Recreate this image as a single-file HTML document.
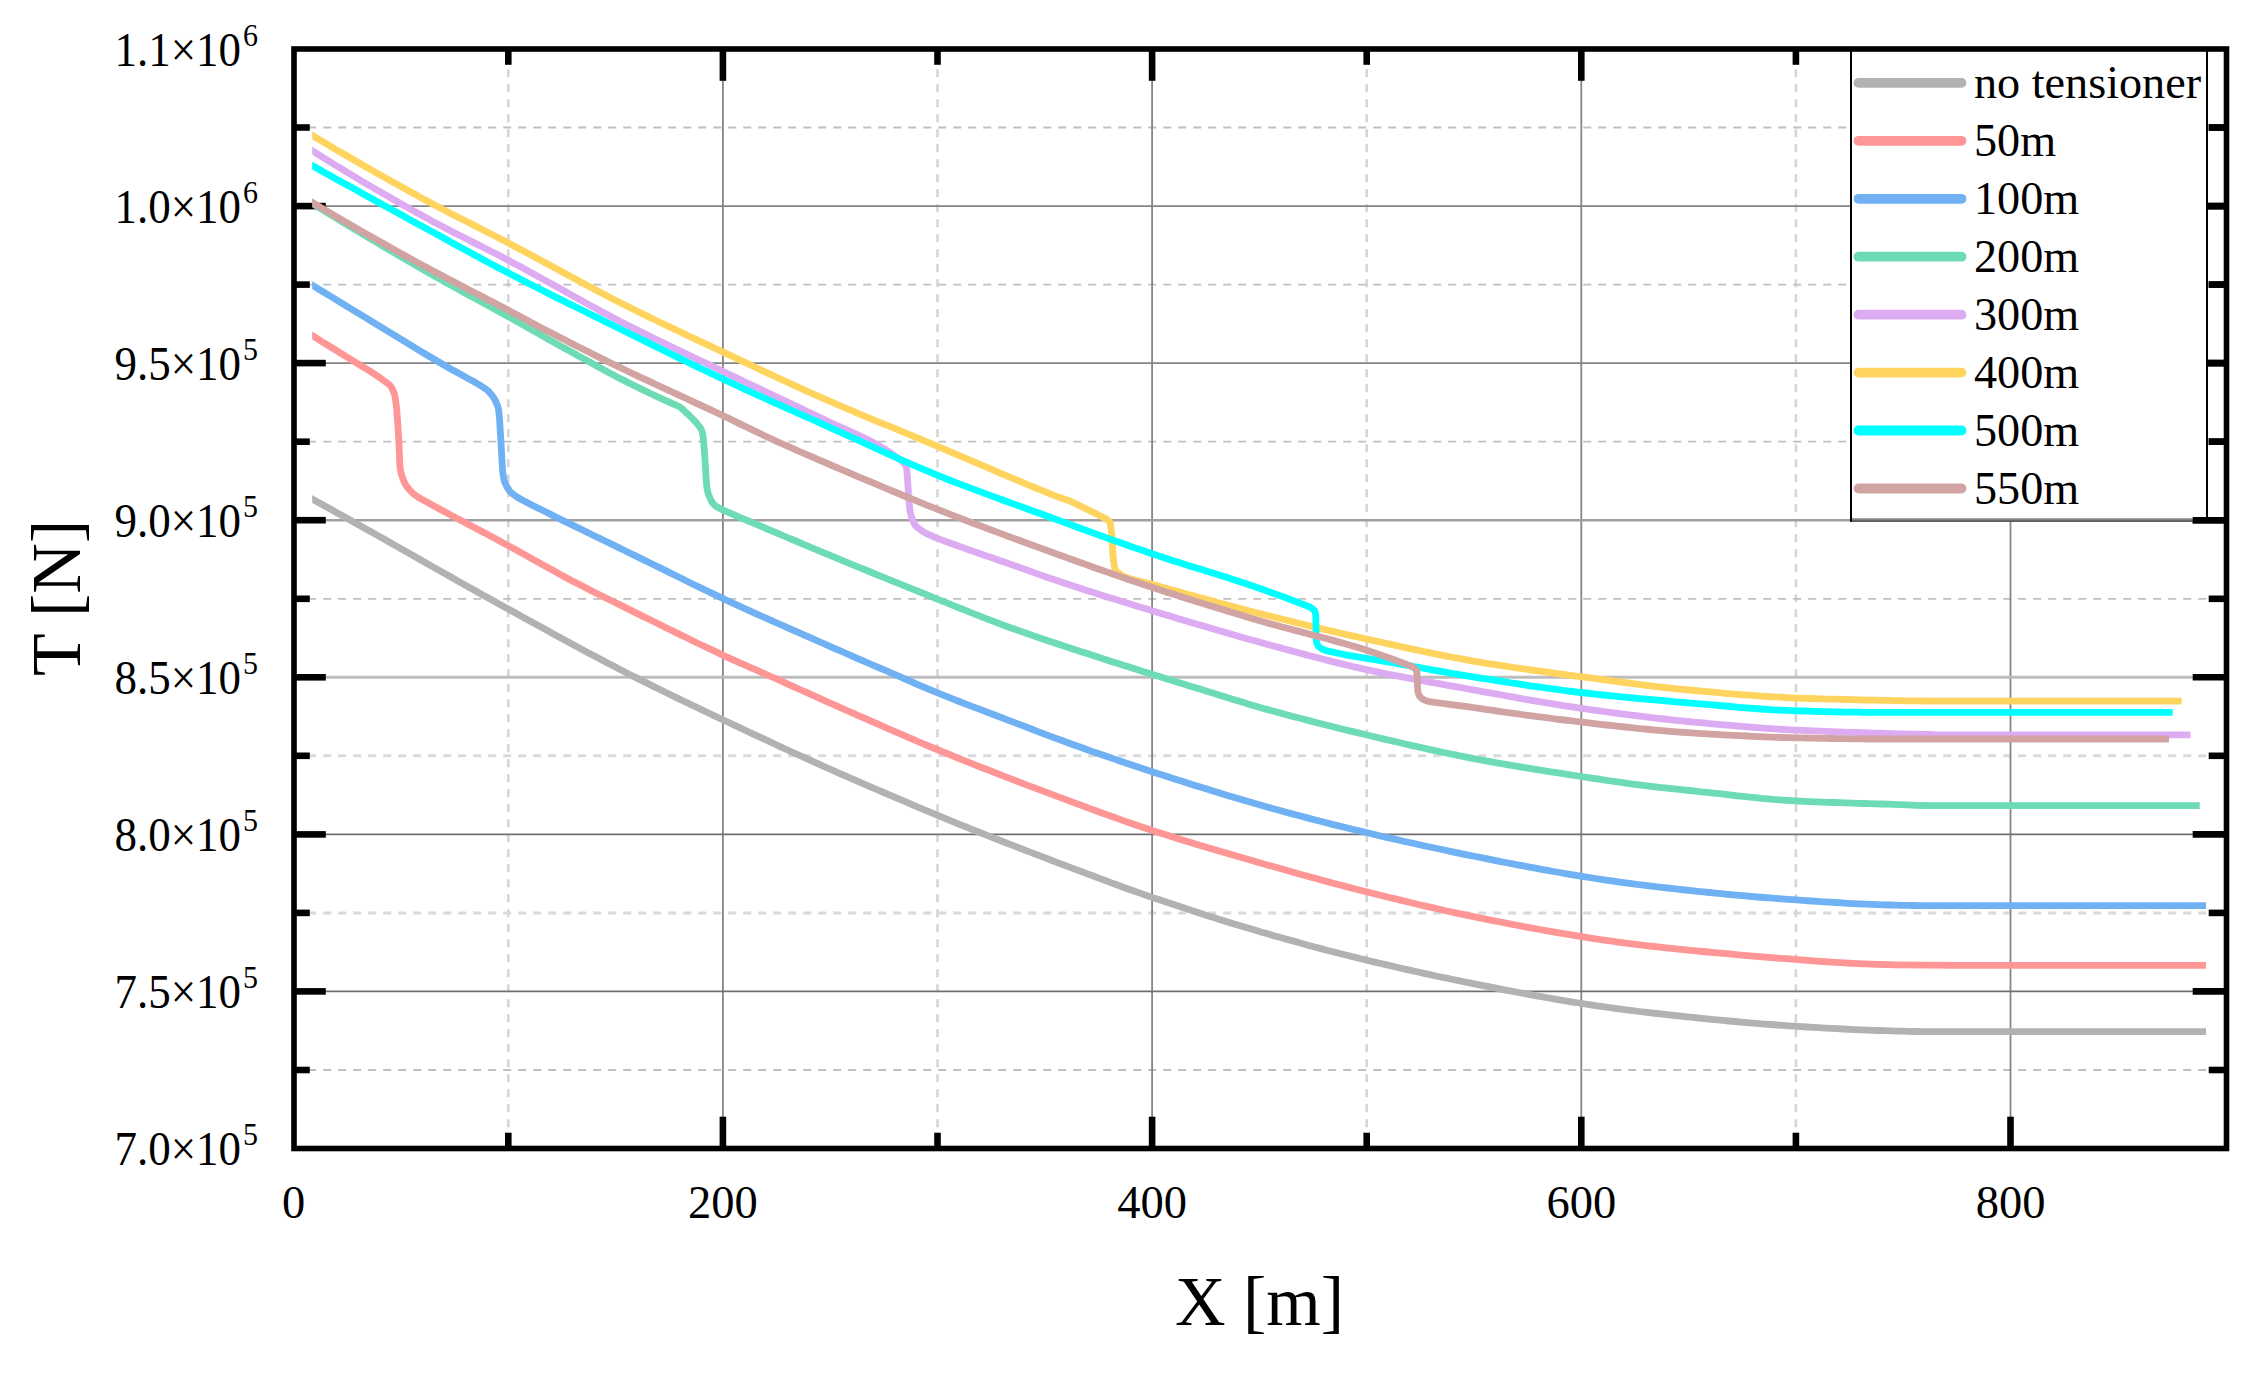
<!DOCTYPE html>
<html lang="en"><head><meta charset="utf-8"><title>T [N] versus X [m]</title>
<style>html,body{margin:0;padding:0;background:#fff}body{width:2263px;height:1374px;overflow:hidden}svg{display:block}text{font-family:"Liberation Serif","DejaVu Serif",serif;fill:#000}</style>
</head><body>
<svg width="2263" height="1374" viewBox="0 0 2263 1374">
<defs><clipPath id="cc"><rect x="312.2" y="49.0" width="1894.8" height="1099.5"/></clipPath></defs>
<rect x="0" y="0" width="2263" height="1374" fill="#fff"/>
<g id="grid" fill="none">
<line x1="508.3" y1="49.0" x2="508.3" y2="1148.5" stroke="#d6d6d6" stroke-width="2.6" stroke-dasharray="8 7" stroke-dashoffset="-5.2"/>
<line x1="937.5" y1="49.0" x2="937.5" y2="1148.5" stroke="#d6d6d6" stroke-width="2.6" stroke-dasharray="8 7" stroke-dashoffset="-5.2"/>
<line x1="1366.7" y1="49.0" x2="1366.7" y2="1148.5" stroke="#d6d6d6" stroke-width="2.6" stroke-dasharray="8 7" stroke-dashoffset="-5.2"/>
<line x1="1795.9" y1="49.0" x2="1795.9" y2="1148.5" stroke="#d6d6d6" stroke-width="2.6" stroke-dasharray="8 7" stroke-dashoffset="-5.2"/>
<line x1="293.2" y1="127.5" x2="2226.5" y2="127.5" stroke="#c0c0c0" stroke-width="1.8" stroke-dasharray="8 7"/>
<line x1="293.2" y1="284.6" x2="2226.5" y2="284.6" stroke="#c0c0c0" stroke-width="1.8" stroke-dasharray="8 7"/>
<line x1="293.2" y1="441.7" x2="2226.5" y2="441.7" stroke="#c0c0c0" stroke-width="1.8" stroke-dasharray="8 7"/>
<line x1="293.2" y1="598.8" x2="2226.5" y2="598.8" stroke="#c0c0c0" stroke-width="1.8" stroke-dasharray="8 7"/>
<line x1="293.2" y1="755.8" x2="2226.5" y2="755.8" stroke="#dadada" stroke-width="3.0" stroke-dasharray="8 7"/>
<line x1="293.2" y1="912.9" x2="2226.5" y2="912.9" stroke="#dadada" stroke-width="3.0" stroke-dasharray="8 7"/>
<line x1="293.2" y1="1070.0" x2="2226.5" y2="1070.0" stroke="#c0c0c0" stroke-width="1.8" stroke-dasharray="8 7"/>
<line x1="722.9" y1="49.0" x2="722.9" y2="1148.5" stroke="#858585" stroke-width="1.8"/>
<line x1="1152.1" y1="49.0" x2="1152.1" y2="1148.5" stroke="#858585" stroke-width="1.8"/>
<line x1="1581.3" y1="49.0" x2="1581.3" y2="1148.5" stroke="#858585" stroke-width="1.8"/>
<line x1="2010.5" y1="49.0" x2="2010.5" y2="1148.5" stroke="#858585" stroke-width="1.8"/>
<line x1="294.0" y1="206.1" x2="2226.5" y2="206.1" stroke="#858585" stroke-width="1.9"/>
<line x1="294.0" y1="363.1" x2="2226.5" y2="363.1" stroke="#858585" stroke-width="1.9"/>
<line x1="294.0" y1="520.2" x2="2226.5" y2="520.2" stroke="#a0a0a0" stroke-width="2.6"/>
<line x1="294.0" y1="677.3" x2="2226.5" y2="677.3" stroke="#bdbdbd" stroke-width="3.0"/>
<line x1="294.0" y1="834.4" x2="2226.5" y2="834.4" stroke="#707070" stroke-width="1.6"/>
<line x1="294.0" y1="991.4" x2="2226.5" y2="991.4" stroke="#707070" stroke-width="1.6"/>
</g>
<g id="ticks" stroke="#000" stroke-width="6.6" fill="none">
<line x1="508.3" y1="1146.7" x2="508.3" y2="1132.7"/>
<line x1="508.3" y1="50.8" x2="508.3" y2="64.8"/>
<line x1="722.9" y1="1146.7" x2="722.9" y2="1116.7"/>
<line x1="722.9" y1="50.8" x2="722.9" y2="80.8"/>
<line x1="937.5" y1="1146.7" x2="937.5" y2="1132.7"/>
<line x1="937.5" y1="50.8" x2="937.5" y2="64.8"/>
<line x1="1152.1" y1="1146.7" x2="1152.1" y2="1116.7"/>
<line x1="1152.1" y1="50.8" x2="1152.1" y2="80.8"/>
<line x1="1366.7" y1="1146.7" x2="1366.7" y2="1132.7"/>
<line x1="1366.7" y1="50.8" x2="1366.7" y2="64.8"/>
<line x1="1581.3" y1="1146.7" x2="1581.3" y2="1116.7"/>
<line x1="1581.3" y1="50.8" x2="1581.3" y2="80.8"/>
<line x1="1795.9" y1="1146.7" x2="1795.9" y2="1132.7"/>
<line x1="1795.9" y1="50.8" x2="1795.9" y2="64.8"/>
<line x1="2010.5" y1="1146.7" x2="2010.5" y2="1116.7"/>
<line x1="2010.5" y1="50.8" x2="2010.5" y2="80.8"/>
<line x1="295.8" y1="127.5" x2="309.8" y2="127.5"/>
<line x1="2224.7" y1="127.5" x2="2208.7" y2="127.5"/>
<line x1="295.8" y1="206.1" x2="325.8" y2="206.1"/>
<line x1="2224.7" y1="206.1" x2="2192.7" y2="206.1"/>
<line x1="295.8" y1="284.6" x2="309.8" y2="284.6"/>
<line x1="2224.7" y1="284.6" x2="2208.7" y2="284.6"/>
<line x1="295.8" y1="363.1" x2="325.8" y2="363.1"/>
<line x1="2224.7" y1="363.1" x2="2192.7" y2="363.1"/>
<line x1="295.8" y1="441.7" x2="309.8" y2="441.7"/>
<line x1="2224.7" y1="441.7" x2="2208.7" y2="441.7"/>
<line x1="295.8" y1="520.2" x2="325.8" y2="520.2"/>
<line x1="2224.7" y1="520.2" x2="2192.7" y2="520.2"/>
<line x1="295.8" y1="598.8" x2="309.8" y2="598.8"/>
<line x1="2224.7" y1="598.8" x2="2208.7" y2="598.8"/>
<line x1="295.8" y1="677.3" x2="325.8" y2="677.3"/>
<line x1="2224.7" y1="677.3" x2="2192.7" y2="677.3"/>
<line x1="295.8" y1="755.8" x2="309.8" y2="755.8"/>
<line x1="2224.7" y1="755.8" x2="2208.7" y2="755.8"/>
<line x1="295.8" y1="834.4" x2="325.8" y2="834.4"/>
<line x1="2224.7" y1="834.4" x2="2192.7" y2="834.4"/>
<line x1="295.8" y1="912.9" x2="309.8" y2="912.9"/>
<line x1="2224.7" y1="912.9" x2="2208.7" y2="912.9"/>
<line x1="295.8" y1="991.4" x2="325.8" y2="991.4"/>
<line x1="2224.7" y1="991.4" x2="2192.7" y2="991.4"/>
<line x1="295.8" y1="1070.0" x2="309.8" y2="1070.0"/>
<line x1="2224.7" y1="1070.0" x2="2208.7" y2="1070.0"/>
</g>
<g id="curves" fill="none" stroke-width="6.8" stroke-linejoin="round" stroke-linecap="butt" clip-path="url(#cc)">
<path stroke="#b2b2b2" d="M306.4 495.9 L312.4 499.2 L318.4 502.5 L324.4 505.8 L330.4 509.1 L336.4 512.4 L342.4 515.8 L348.4 519.1 L354.4 522.4 L360.4 525.8 L366.4 529.2 L372.4 532.5 L378.4 535.9 L384.4 539.3 L390.4 542.7 L396.4 546.1 L402.4 549.5 L408.4 552.9 L414.4 556.3 L420.4 559.8 L426.4 563.2 L432.4 566.6 L438.4 570.0 L444.4 573.4 L450.5 576.8 L456.5 580.2 L462.5 583.6 L468.5 586.9 L474.5 590.3 L480.5 593.7 L486.5 597.0 L492.5 600.3 L498.5 603.7 L504.5 607.0 L510.5 610.3 L516.5 613.6 L522.5 616.9 L528.5 620.2 L534.5 623.5 L540.5 626.8 L546.5 630.1 L552.5 633.4 L558.5 636.7 L564.5 640.0 L570.5 643.2 L576.5 646.5 L582.5 649.7 L588.5 652.9 L594.5 656.1 L600.5 659.3 L606.5 662.5 L612.5 665.6 L618.5 668.7 L624.5 671.8 L630.5 674.9 L636.5 677.9 L642.5 680.9 L648.5 683.9 L654.5 686.9 L660.5 689.8 L666.5 692.8 L672.5 695.7 L678.5 698.6 L684.5 701.5 L690.5 704.4 L696.5 707.3 L702.5 710.1 L708.5 713.0 L714.5 715.8 L720.6 718.7 L726.6 721.5 L732.6 724.4 L738.6 727.2 L744.6 730.0 L750.6 732.8 L756.6 735.6 L762.6 738.4 L768.6 741.2 L774.6 744.0 L780.6 746.8 L786.6 749.5 L792.6 752.3 L798.6 755.0 L804.6 757.7 L810.6 760.4 L816.6 763.1 L822.6 765.8 L828.6 768.5 L834.6 771.1 L840.6 773.8 L846.6 776.4 L852.6 779.1 L858.6 781.7 L864.6 784.3 L870.6 786.9 L876.6 789.5 L882.6 792.0 L888.6 794.6 L894.6 797.2 L900.6 799.7 L906.6 802.2 L912.6 804.8 L918.6 807.3 L924.6 809.8 L930.6 812.3 L936.6 814.8 L942.6 817.3 L948.6 819.8 L954.6 822.3 L960.6 824.8 L966.6 827.2 L972.6 829.6 L978.6 832.0 L984.7 834.4 L990.7 836.8 L996.7 839.1 L1002.7 841.5 L1008.7 843.8 L1014.7 846.2 L1020.7 848.5 L1026.7 850.8 L1032.7 853.1 L1038.7 855.4 L1044.7 857.7 L1050.7 860.0 L1056.7 862.3 L1062.7 864.5 L1068.7 866.8 L1074.7 869.1 L1080.7 871.3 L1086.7 873.6 L1092.7 875.8 L1098.7 878.1 L1104.7 880.3 L1110.7 882.6 L1116.7 884.8 L1122.7 887.0 L1128.7 889.2 L1134.7 891.3 L1140.7 893.4 L1146.7 895.5 L1152.7 897.6 L1158.7 899.6 L1164.7 901.6 L1170.7 903.6 L1176.7 905.6 L1182.7 907.6 L1188.7 909.6 L1194.7 911.5 L1200.7 913.5 L1206.7 915.4 L1212.7 917.3 L1218.7 919.2 L1224.7 921.0 L1230.7 922.9 L1236.7 924.7 L1242.7 926.5 L1248.7 928.3 L1254.8 930.1 L1260.8 931.9 L1266.8 933.6 L1272.8 935.4 L1278.8 937.1 L1284.8 938.8 L1290.8 940.4 L1296.8 942.1 L1302.8 943.7 L1308.8 945.4 L1314.8 947.0 L1320.8 948.6 L1326.8 950.2 L1332.8 951.7 L1338.8 953.3 L1344.8 954.8 L1350.8 956.3 L1356.8 957.8 L1362.8 959.2 L1368.8 960.7 L1374.8 962.1 L1380.8 963.5 L1386.8 964.9 L1392.8 966.3 L1398.8 967.7 L1404.8 969.1 L1410.8 970.4 L1416.8 971.8 L1422.8 973.1 L1428.8 974.4 L1434.8 975.7 L1440.8 977.0 L1446.8 978.2 L1452.8 979.5 L1458.8 980.7 L1464.8 982.0 L1470.8 983.2 L1476.8 984.4 L1482.8 985.6 L1488.8 986.7 L1494.8 987.9 L1500.8 989.1 L1506.8 990.3 L1512.8 991.4 L1518.8 992.5 L1524.9 993.7 L1530.9 994.8 L1536.9 995.9 L1542.9 996.9 L1548.9 998.0 L1554.9 999.1 L1560.9 1000.1 L1566.9 1001.1 L1572.9 1002.1 L1578.9 1003.0 L1584.9 1004.0 L1590.9 1004.9 L1596.9 1005.8 L1602.9 1006.7 L1608.9 1007.5 L1614.9 1008.4 L1620.9 1009.2 L1626.9 1010.0 L1632.9 1010.7 L1638.9 1011.5 L1644.9 1012.2 L1650.9 1012.9 L1656.9 1013.5 L1662.9 1014.2 L1668.9 1014.9 L1674.9 1015.5 L1680.9 1016.2 L1686.9 1016.8 L1692.9 1017.4 L1698.9 1018.1 L1704.9 1018.7 L1710.9 1019.3 L1716.9 1019.8 L1722.9 1020.4 L1728.9 1021.0 L1734.9 1021.5 L1740.9 1022.1 L1746.9 1022.6 L1752.9 1023.1 L1758.9 1023.6 L1764.9 1024.1 L1770.9 1024.5 L1776.9 1025.0 L1782.9 1025.4 L1789.0 1025.8 L1795.0 1026.2 L1801.0 1026.6 L1807.0 1027.0 L1813.0 1027.4 L1819.0 1027.7 L1825.0 1028.1 L1831.0 1028.4 L1837.0 1028.7 L1843.0 1029.0 L1849.0 1029.3 L1855.0 1029.6 L1861.0 1029.9 L1867.0 1030.1 L1873.0 1030.3 L1879.0 1030.5 L1885.0 1030.7 L1891.0 1030.9 L1897.0 1031.1 L1903.0 1031.2 L1909.0 1031.4 L1915.0 1031.5 L1921.0 1031.6 L2206.0 1031.6"/>
<path stroke="#ff9696" d="M306.4 332.0 L312.4 335.7 L312.9 336.0 L314.5 337.0 L316.5 338.2 L322.2 341.8 L325.9 344.0 L333.2 348.5 L341.0 353.3 L361.3 365.8 L369.1 370.7 L376.5 375.4 L380.3 378.0 L386.4 382.4 L388.7 384.2 L390.8 386.3 L391.8 387.8 L393.1 390.8 L393.6 392.1 L394.2 393.6 L394.5 394.6 L395.0 396.6 L395.2 397.7 L395.5 399.5 L395.7 401.2 L396.3 405.5 L396.5 407.3 L396.7 409.5 L396.9 411.2 L397.1 414.8 L397.3 416.7 L397.5 420.2 L397.7 423.5 L398.3 432.1 L398.5 435.5 L398.7 439.1 L398.8 441.4 L399.0 445.7 L399.1 447.8 L399.3 451.0 L399.4 453.9 L399.6 460.8 L399.8 463.6 L400.0 466.4 L400.1 468.0 L400.6 471.0 L400.9 472.4 L401.4 474.3 L401.9 475.9 L403.3 479.6 L403.9 481.1 L404.5 482.7 L405.0 483.6 L406.1 485.4 L406.6 486.3 L407.6 487.6 L408.6 488.7 L410.9 491.3 L412.0 492.4 L413.2 493.6 L414.1 494.3 L416.2 495.9 L417.3 496.6 L419.2 497.8 L421.1 498.9 L425.9 501.5 L427.9 502.6 L430.1 503.9 L431.7 504.7 L434.8 506.4 L436.5 507.3 L439.1 508.8 L441.7 510.2 L448.1 513.6 L450.5 515.0 L452.9 516.2 L454.0 516.8 L455.8 517.8 L456.5 518.1 L457.0 518.4 L457.1 518.5 L463.1 521.6 L469.1 524.8 L475.1 528.0 L481.2 531.1 L487.2 534.3 L493.2 537.5 L499.2 540.8 L505.2 544.0 L511.2 547.2 L517.2 550.5 L523.3 553.9 L529.3 557.2 L535.3 560.6 L541.3 563.9 L547.3 567.3 L553.3 570.6 L559.3 573.9 L565.4 577.2 L571.4 580.4 L577.4 583.5 L583.4 586.6 L589.4 589.7 L595.4 592.7 L601.4 595.7 L607.5 598.7 L613.5 601.7 L619.5 604.6 L625.5 607.6 L631.5 610.6 L637.5 613.6 L643.5 616.6 L649.6 619.5 L655.6 622.5 L661.6 625.5 L667.6 628.5 L673.6 631.4 L679.6 634.4 L685.6 637.3 L691.7 640.3 L697.7 643.2 L703.7 646.0 L709.7 648.9 L715.7 651.7 L721.7 654.6 L727.7 657.3 L733.8 660.1 L739.8 662.8 L745.8 665.4 L751.8 668.1 L757.8 670.7 L763.8 673.4 L769.8 676.0 L775.9 678.7 L781.9 681.4 L787.9 684.1 L793.9 686.8 L799.9 689.5 L805.9 692.2 L811.9 694.9 L818.0 697.6 L824.0 700.3 L830.0 703.0 L836.0 705.7 L842.0 708.3 L848.0 711.0 L854.0 713.6 L860.1 716.3 L866.1 718.9 L872.1 721.6 L878.1 724.2 L884.1 726.9 L890.1 729.5 L896.1 732.1 L902.2 734.7 L908.2 737.3 L914.2 739.9 L920.2 742.5 L926.2 745.0 L932.2 747.5 L938.2 750.0 L944.3 752.5 L950.3 754.9 L956.3 757.4 L962.3 759.8 L968.3 762.2 L974.3 764.6 L980.3 767.0 L986.4 769.3 L992.4 771.7 L998.4 774.0 L1004.4 776.4 L1010.4 778.7 L1016.4 781.0 L1022.4 783.3 L1028.5 785.6 L1034.5 787.9 L1040.5 790.2 L1046.5 792.4 L1052.5 794.7 L1058.5 796.9 L1064.5 799.2 L1070.6 801.4 L1076.6 803.6 L1082.6 805.8 L1088.6 808.1 L1094.6 810.3 L1100.6 812.5 L1106.6 814.6 L1112.7 816.8 L1118.7 818.9 L1124.7 821.1 L1130.7 823.2 L1136.7 825.2 L1142.7 827.3 L1148.7 829.3 L1154.8 831.2 L1160.8 833.2 L1166.8 835.1 L1172.8 837.0 L1178.8 838.9 L1184.8 840.7 L1190.8 842.6 L1196.8 844.4 L1202.9 846.2 L1208.9 848.0 L1214.9 849.8 L1220.9 851.6 L1226.9 853.3 L1232.9 855.1 L1238.9 856.8 L1245.0 858.5 L1251.0 860.3 L1257.0 862.0 L1263.0 863.7 L1269.0 865.4 L1275.0 867.1 L1281.0 868.8 L1287.1 870.5 L1293.1 872.2 L1299.1 873.9 L1305.1 875.5 L1311.1 877.2 L1317.1 878.8 L1323.1 880.5 L1329.2 882.1 L1335.2 883.7 L1341.2 885.3 L1347.2 886.9 L1353.2 888.5 L1359.2 890.0 L1365.2 891.5 L1371.3 893.0 L1377.3 894.5 L1383.3 896.0 L1389.3 897.5 L1395.3 898.9 L1401.3 900.4 L1407.3 901.8 L1413.4 903.2 L1419.4 904.7 L1425.4 906.1 L1431.4 907.4 L1437.4 908.8 L1443.4 910.2 L1449.4 911.5 L1455.5 912.8 L1461.5 914.1 L1467.5 915.4 L1473.5 916.6 L1479.5 917.8 L1485.5 919.1 L1491.5 920.3 L1497.6 921.5 L1503.6 922.7 L1509.6 923.8 L1515.6 925.0 L1521.6 926.2 L1527.6 927.3 L1533.6 928.4 L1539.7 929.5 L1545.7 930.6 L1551.7 931.7 L1557.7 932.7 L1563.7 933.7 L1569.7 934.7 L1575.7 935.7 L1581.8 936.7 L1587.8 937.6 L1593.8 938.6 L1599.8 939.5 L1605.8 940.4 L1611.8 941.2 L1617.8 942.1 L1623.9 942.9 L1629.9 943.7 L1635.9 944.4 L1641.9 945.1 L1647.9 945.8 L1653.9 946.5 L1659.9 947.1 L1666.0 947.8 L1672.0 948.4 L1678.0 949.1 L1684.0 949.7 L1690.0 950.3 L1696.0 950.9 L1702.0 951.5 L1708.1 952.0 L1714.1 952.6 L1720.1 953.2 L1726.1 953.7 L1732.1 954.2 L1738.1 954.8 L1744.1 955.3 L1750.2 955.8 L1756.2 956.3 L1762.2 956.8 L1768.2 957.3 L1774.2 957.8 L1780.2 958.3 L1786.2 958.7 L1792.3 959.2 L1798.3 959.7 L1804.3 960.1 L1810.3 960.6 L1816.3 961.1 L1822.3 961.5 L1828.3 961.9 L1834.4 962.3 L1840.4 962.7 L1846.4 963.0 L1852.4 963.3 L1858.4 963.6 L1864.4 963.8 L1870.4 964.1 L1876.5 964.3 L1882.5 964.5 L1888.5 964.7 L1894.5 964.8 L1960.0 965.3 L2206.0 965.3"/>
<path stroke="#6fb1f2" d="M306.4 281.6 L312.4 285.3 L313.1 285.8 L315.8 287.4 L319.2 289.5 L328.7 295.2 L334.8 298.9 L346.9 306.3 L359.8 314.2 L393.4 334.7 L406.6 342.7 L419.6 350.6 L426.9 355.0 L439.7 362.5 L445.2 365.8 L452.1 369.7 L457.4 372.6 L469.1 379.1 L473.7 381.6 L478.1 384.1 L480.4 385.5 L484.3 388.0 L485.9 389.1 L487.6 390.4 L488.7 391.5 L490.8 393.9 L491.7 394.9 L492.5 396.0 L493.0 396.7 L494.0 398.2 L494.5 399.0 L495.1 400.3 L495.7 401.4 L497.0 404.4 L497.5 405.7 L498.1 407.4 L498.4 408.9 L498.9 412.2 L499.1 414.1 L499.4 417.5 L499.7 420.9 L500.2 429.7 L500.4 433.3 L500.7 437.2 L500.8 439.8 L501.1 445.0 L501.3 447.6 L501.5 451.8 L501.7 455.6 L502.3 465.3 L502.5 469.0 L502.8 472.7 L503.1 474.8 L503.7 478.4 L504.0 479.9 L504.6 481.9 L505.3 483.3 L506.8 486.5 L507.5 487.8 L508.3 489.1 L508.8 489.8 L509.9 491.3 L510.5 491.9 L511.5 492.9 L512.5 493.7 L514.9 495.5 L516.1 496.4 L517.9 497.5 L519.5 498.5 L523.5 500.7 L525.9 501.9 L530.3 504.2 L534.8 506.5 L546.6 512.3 L551.1 514.6 L555.3 516.7 L557.4 517.8 L560.7 519.4 L561.9 520.0 L562.8 520.5 L563.1 520.6 L569.1 523.5 L575.1 526.4 L581.1 529.3 L587.1 532.3 L593.1 535.2 L599.1 538.1 L605.1 541.0 L611.1 543.9 L617.1 546.9 L623.1 549.8 L629.1 552.7 L635.1 555.6 L641.1 558.6 L647.1 561.5 L653.1 564.5 L659.1 567.4 L665.1 570.4 L671.1 573.4 L677.1 576.3 L683.1 579.3 L689.1 582.3 L695.1 585.2 L701.2 588.1 L707.2 591.0 L713.2 593.9 L719.2 596.7 L725.2 599.6 L731.2 602.3 L737.2 605.1 L743.2 607.8 L749.2 610.6 L755.2 613.3 L761.2 616.0 L767.2 618.6 L773.2 621.3 L779.2 624.0 L785.2 626.6 L791.2 629.3 L797.2 631.9 L803.2 634.6 L809.2 637.2 L815.2 639.9 L821.2 642.5 L827.2 645.2 L833.2 647.8 L839.2 650.4 L845.2 653.0 L851.2 655.6 L857.2 658.3 L863.2 660.9 L869.2 663.5 L875.2 666.1 L881.2 668.7 L887.2 671.2 L893.2 673.8 L899.2 676.4 L905.2 679.1 L911.2 681.7 L917.2 684.3 L923.2 686.8 L929.2 689.4 L935.2 691.9 L941.2 694.3 L947.2 696.7 L953.2 699.1 L959.2 701.5 L965.2 703.8 L971.2 706.1 L977.3 708.4 L983.3 710.7 L989.3 713.0 L995.3 715.2 L1001.3 717.5 L1007.3 719.8 L1013.3 722.1 L1019.3 724.4 L1025.3 726.7 L1031.3 729.0 L1037.3 731.3 L1043.3 733.6 L1049.3 735.9 L1055.3 738.1 L1061.3 740.3 L1067.3 742.5 L1073.3 744.7 L1079.3 746.8 L1085.3 749.0 L1091.3 751.1 L1097.3 753.2 L1103.3 755.3 L1109.3 757.3 L1115.3 759.4 L1121.3 761.4 L1127.3 763.5 L1133.3 765.5 L1139.3 767.5 L1145.3 769.5 L1151.3 771.4 L1157.3 773.4 L1163.3 775.3 L1169.3 777.2 L1175.3 779.2 L1181.3 781.1 L1187.3 783.0 L1193.3 784.9 L1199.3 786.7 L1205.3 788.6 L1211.3 790.5 L1217.3 792.3 L1223.3 794.2 L1229.3 796.0 L1235.3 797.8 L1241.3 799.5 L1247.3 801.3 L1253.4 803.0 L1259.4 804.8 L1265.4 806.5 L1271.4 808.2 L1277.4 809.8 L1283.4 811.5 L1289.4 813.1 L1295.4 814.7 L1301.4 816.3 L1307.4 817.9 L1313.4 819.5 L1319.4 821.0 L1325.4 822.5 L1331.4 824.1 L1337.4 825.6 L1343.4 827.0 L1349.4 828.5 L1355.4 830.0 L1361.4 831.4 L1367.4 832.8 L1373.4 834.3 L1379.4 835.7 L1385.4 837.1 L1391.4 838.4 L1397.4 839.8 L1403.4 841.2 L1409.4 842.5 L1415.4 843.8 L1421.4 845.2 L1427.4 846.5 L1433.4 847.8 L1439.4 849.0 L1445.4 850.3 L1451.4 851.6 L1457.4 852.8 L1463.4 854.1 L1469.4 855.3 L1475.4 856.5 L1481.4 857.7 L1487.4 858.9 L1493.4 860.1 L1499.4 861.3 L1505.4 862.5 L1511.4 863.6 L1517.4 864.8 L1523.5 865.9 L1529.5 867.1 L1535.5 868.2 L1541.5 869.3 L1547.5 870.4 L1553.5 871.5 L1559.5 872.5 L1565.5 873.6 L1571.5 874.6 L1577.5 875.6 L1583.5 876.6 L1589.5 877.5 L1595.5 878.5 L1601.5 879.4 L1607.5 880.3 L1613.5 881.2 L1619.5 882.1 L1625.5 882.9 L1631.5 883.7 L1637.5 884.5 L1643.5 885.2 L1649.5 885.9 L1655.5 886.6 L1661.5 887.3 L1667.5 888.0 L1673.5 888.7 L1679.5 889.4 L1685.5 890.0 L1691.5 890.7 L1697.5 891.3 L1703.5 891.9 L1709.5 892.5 L1715.5 893.1 L1721.5 893.7 L1727.5 894.3 L1733.5 894.8 L1739.5 895.4 L1745.5 895.9 L1751.5 896.5 L1757.5 897.0 L1763.5 897.5 L1769.5 897.9 L1775.5 898.4 L1781.5 898.9 L1787.5 899.3 L1793.5 899.7 L1799.6 900.2 L1805.6 900.6 L1811.6 901.0 L1817.6 901.4 L1823.6 901.8 L1829.6 902.2 L1835.6 902.5 L1841.6 902.9 L1847.6 903.3 L1853.6 903.6 L1859.6 903.9 L1865.6 904.2 L1871.6 904.4 L1877.6 904.6 L1883.6 904.8 L1889.6 905.0 L1895.6 905.1 L1901.6 905.3 L1907.6 905.4 L1913.6 905.5 L1919.6 905.6 L1925.6 905.7 L1931.6 905.7 L2206.0 905.7"/>
<path stroke="#6ddcb4" d="M306.4 199.8 L312.4 203.5 L318.4 207.2 L324.5 211.0 L330.5 214.7 L336.5 218.4 L342.5 222.0 L348.6 225.7 L354.6 229.3 L360.6 232.9 L366.7 236.5 L372.7 240.1 L378.7 243.7 L384.7 247.3 L390.8 250.8 L396.8 254.3 L402.8 257.8 L408.8 261.3 L414.9 264.8 L420.9 268.3 L426.9 271.7 L433.0 275.2 L439.0 278.6 L445.0 282.0 L451.0 285.3 L457.1 288.6 L463.1 291.9 L469.1 295.2 L475.2 298.5 L481.2 301.8 L487.2 305.0 L493.2 308.3 L499.3 311.7 L505.3 315.0 L511.3 318.4 L517.3 321.7 L523.4 325.1 L529.4 328.5 L535.4 331.9 L541.5 335.3 L547.5 338.7 L553.5 342.1 L559.5 345.4 L565.6 348.8 L571.6 352.1 L577.6 355.5 L583.7 358.8 L589.7 362.1 L595.7 365.4 L601.7 368.7 L607.8 372.0 L613.8 375.2 L619.8 378.4 L625.8 381.4 L631.9 384.5 L637.9 387.4 L643.9 390.4 L650.0 393.3 L656.0 396.1 L662.0 398.9 L668.0 401.7 L674.1 404.4 L680.1 407.0 L680.2 407.1 L680.5 407.4 L680.9 407.7 L681.9 408.7 L682.6 409.3 L683.9 410.5 L685.3 411.9 L689.1 415.3 L690.5 416.7 L692.0 418.2 L692.9 419.1 L694.6 420.8 L695.4 421.6 L696.4 422.9 L697.3 424.0 L699.5 426.6 L700.3 427.8 L701.1 429.2 L701.6 430.3 L702.3 432.6 L702.6 433.9 L703.0 436.2 L703.3 438.5 L703.8 444.2 L704.0 446.6 L704.3 449.5 L704.5 451.6 L704.8 456.0 L704.9 458.5 L705.2 462.6 L705.4 466.6 L706.0 476.7 L706.2 480.7 L706.6 484.6 L706.8 486.8 L707.5 490.6 L707.8 492.3 L708.4 494.3 L709.1 495.9 L710.6 499.4 L711.3 500.8 L712.1 502.1 L712.6 502.9 L713.6 504.2 L714.2 504.8 L715.1 505.6 L715.9 506.2 L718.1 507.5 L719.1 508.1 L720.4 508.8 L721.6 509.4 L724.3 510.7 L725.9 511.4 L728.8 512.6 L731.8 513.9 L739.3 517.1 L742.2 518.3 L745.0 519.5 L746.3 520.1 L748.5 521.0 L749.2 521.3 L749.8 521.5 L750.0 521.6 L756.0 524.2 L762.0 526.7 L768.1 529.3 L774.1 531.9 L780.1 534.4 L786.1 537.0 L792.1 539.5 L798.2 542.0 L804.2 544.6 L810.2 547.1 L816.2 549.6 L822.2 552.1 L828.3 554.6 L834.3 557.1 L840.3 559.6 L846.3 562.1 L852.3 564.6 L858.4 567.1 L864.4 569.5 L870.4 572.0 L876.4 574.5 L882.4 576.9 L888.5 579.4 L894.5 581.8 L900.5 584.2 L906.5 586.7 L912.6 589.1 L918.6 591.5 L924.6 593.9 L930.6 596.4 L936.6 598.8 L942.7 601.2 L948.7 603.6 L954.7 606.1 L960.7 608.5 L966.7 610.9 L972.8 613.3 L978.8 615.7 L984.8 618.1 L990.8 620.4 L996.8 622.7 L1002.9 625.0 L1008.9 627.2 L1014.9 629.3 L1020.9 631.4 L1026.9 633.5 L1033.0 635.6 L1039.0 637.7 L1045.0 639.7 L1051.0 641.7 L1057.0 643.7 L1063.1 645.7 L1069.1 647.7 L1075.1 649.7 L1081.1 651.7 L1087.1 653.6 L1093.2 655.6 L1099.2 657.5 L1105.2 659.5 L1111.2 661.4 L1117.2 663.3 L1123.3 665.2 L1129.3 667.1 L1135.3 669.0 L1141.3 670.9 L1147.3 672.8 L1153.4 674.7 L1159.4 676.6 L1165.4 678.4 L1171.4 680.3 L1177.4 682.2 L1183.5 684.0 L1189.5 685.9 L1195.5 687.7 L1201.5 689.6 L1207.6 691.4 L1213.6 693.3 L1219.6 695.2 L1225.6 697.0 L1231.6 698.9 L1237.7 700.7 L1243.7 702.6 L1249.7 704.4 L1255.7 706.2 L1261.7 707.9 L1267.8 709.6 L1273.8 711.3 L1279.8 712.9 L1285.8 714.6 L1291.8 716.2 L1297.9 717.8 L1303.9 719.3 L1309.9 720.9 L1315.9 722.5 L1321.9 724.0 L1328.0 725.5 L1334.0 727.0 L1340.0 728.5 L1346.0 730.0 L1352.0 731.4 L1358.1 732.9 L1364.1 734.3 L1370.1 735.7 L1376.1 737.2 L1382.1 738.6 L1388.2 740.0 L1394.2 741.4 L1400.2 742.8 L1406.2 744.2 L1412.2 745.6 L1418.3 746.9 L1424.3 748.3 L1430.3 749.6 L1436.3 750.9 L1442.3 752.2 L1448.4 753.5 L1454.4 754.7 L1460.4 756.0 L1466.4 757.2 L1472.4 758.3 L1478.5 759.5 L1484.5 760.6 L1490.5 761.7 L1496.5 762.8 L1502.6 763.8 L1508.6 764.9 L1514.6 765.9 L1520.6 766.9 L1526.6 767.9 L1532.7 768.9 L1538.7 769.9 L1544.7 770.8 L1550.7 771.8 L1556.7 772.7 L1562.8 773.7 L1568.8 774.6 L1574.8 775.5 L1580.8 776.5 L1586.8 777.4 L1592.9 778.3 L1598.9 779.2 L1604.9 780.1 L1610.9 781.0 L1616.9 781.9 L1623.0 782.7 L1629.0 783.6 L1635.0 784.4 L1641.0 785.1 L1647.0 785.9 L1653.1 786.6 L1659.1 787.3 L1665.1 787.9 L1671.1 788.6 L1677.1 789.2 L1683.2 789.9 L1689.2 790.5 L1695.2 791.1 L1701.2 791.8 L1707.2 792.4 L1713.3 793.1 L1719.3 793.7 L1725.3 794.4 L1731.3 795.1 L1737.3 795.8 L1743.4 796.4 L1749.4 797.1 L1755.4 797.7 L1761.4 798.3 L1767.4 798.8 L1773.5 799.4 L1779.5 799.8 L1785.5 800.3 L1791.5 800.7 L1797.6 801.0 L1803.6 801.3 L1809.6 801.6 L1815.6 801.8 L1821.6 802.1 L1827.7 802.3 L1833.7 802.5 L1839.7 802.7 L1845.7 802.9 L1851.7 803.1 L1857.8 803.3 L1863.8 803.5 L1869.8 803.6 L1875.8 803.8 L1881.8 804.0 L1887.9 804.2 L1893.9 804.4 L1899.9 804.6 L1905.9 804.9 L1911.9 805.1 L1918.0 805.3 L1924.0 805.5 L1930.0 805.7 L2199.7 805.7"/>
<path stroke="#ddabf2" d="M306.4 147.0 L312.4 150.8 L318.4 154.6 L324.4 158.3 L330.4 162.1 L336.5 165.8 L342.5 169.4 L348.5 173.1 L354.5 176.7 L360.5 180.3 L366.5 183.9 L372.6 187.4 L378.6 190.9 L384.6 194.4 L390.6 197.8 L396.6 201.3 L402.6 204.7 L408.7 208.1 L414.7 211.4 L420.7 214.8 L426.7 218.1 L432.7 221.4 L438.7 224.6 L444.8 227.8 L450.8 230.9 L456.8 234.0 L462.8 237.0 L468.8 240.1 L474.8 243.1 L480.9 246.1 L486.9 249.2 L492.9 252.2 L498.9 255.3 L504.9 258.5 L510.9 261.7 L517.0 264.9 L523.0 268.1 L529.0 271.4 L535.0 274.7 L541.0 278.1 L547.0 281.4 L553.1 284.8 L559.1 288.1 L565.1 291.5 L571.1 294.9 L577.1 298.2 L583.1 301.5 L589.2 304.9 L595.2 308.1 L601.2 311.4 L607.2 314.6 L613.2 317.8 L619.2 321.0 L625.2 324.1 L631.3 327.1 L637.3 330.1 L643.3 333.1 L649.3 336.1 L655.3 339.0 L661.3 341.9 L667.4 344.8 L673.4 347.7 L679.4 350.6 L685.4 353.5 L691.4 356.3 L697.4 359.2 L703.5 362.0 L709.5 364.9 L715.5 367.8 L721.5 370.7 L727.5 373.5 L733.5 376.4 L739.6 379.3 L745.6 382.2 L751.6 385.1 L757.6 387.9 L763.6 390.8 L769.6 393.6 L775.7 396.5 L781.7 399.4 L787.7 402.2 L793.7 405.1 L799.7 407.9 L805.7 410.8 L811.8 413.6 L817.8 416.5 L823.8 419.3 L829.8 422.2 L835.8 425.0 L841.8 427.7 L847.9 430.4 L853.9 433.1 L859.9 435.9 L865.9 438.8 L871.9 441.8 L877.9 445.1 L884.0 448.7 L890.0 452.6 L896.0 456.7 L902.0 461.0 L902.0 461.0 L902.1 461.1 L902.2 461.3 L902.5 461.6 L902.7 461.9 L903.2 462.3 L903.6 462.8 L904.7 464.2 L905.2 464.7 L905.6 465.4 L905.8 465.8 L906.2 466.9 L906.4 467.4 L906.5 468.4 L906.7 469.3 L906.9 471.7 L907.0 472.7 L907.2 473.9 L907.2 474.7 L907.4 476.6 L907.4 477.6 L907.6 479.4 L907.7 481.1 L907.9 485.4 L908.0 487.2 L908.2 489.2 L908.3 490.5 L908.4 493.2 L908.5 494.6 L908.7 496.9 L908.9 499.0 L909.2 504.4 L909.4 506.5 L909.7 508.7 L909.9 510.0 L910.3 512.5 L910.6 513.7 L911.0 515.3 L911.5 516.8 L912.7 520.2 L913.2 521.6 L913.8 523.0 L914.3 523.8 L915.3 525.3 L915.9 526.0 L916.8 527.0 L917.8 527.8 L920.2 529.6 L921.2 530.4 L922.4 531.2 L923.2 531.7 L924.9 532.7 L925.8 533.2 L927.3 533.9 L928.7 534.6 L932.3 536.1 L933.7 536.8 L935.0 537.3 L935.6 537.6 L936.7 538.1 L937.0 538.2 L937.3 538.4 L937.4 538.4 L943.4 540.6 L949.4 542.8 L955.4 545.0 L961.4 547.1 L967.4 549.3 L973.4 551.4 L979.4 553.5 L985.4 555.6 L991.4 557.6 L997.4 559.7 L1003.4 561.8 L1009.4 563.9 L1015.4 566.0 L1021.5 568.1 L1027.5 570.3 L1033.5 572.4 L1039.5 574.6 L1045.5 576.7 L1051.5 578.8 L1057.5 580.8 L1063.5 582.8 L1069.5 584.8 L1075.5 586.8 L1081.5 588.7 L1087.5 590.7 L1093.5 592.6 L1099.5 594.5 L1105.5 596.4 L1111.5 598.3 L1117.5 600.1 L1123.5 602.0 L1129.5 603.8 L1135.5 605.7 L1141.5 607.5 L1147.5 609.3 L1153.5 611.2 L1159.5 613.0 L1165.5 614.8 L1171.5 616.6 L1177.5 618.4 L1183.5 620.2 L1189.6 622.0 L1195.6 623.8 L1201.6 625.6 L1207.6 627.3 L1213.6 629.1 L1219.6 630.8 L1225.6 632.6 L1231.6 634.3 L1237.6 636.0 L1243.6 637.7 L1249.6 639.4 L1255.6 641.1 L1261.6 642.7 L1267.6 644.4 L1273.6 646.0 L1279.6 647.6 L1285.6 649.3 L1291.6 650.9 L1297.6 652.5 L1303.6 654.1 L1309.6 655.7 L1315.6 657.3 L1321.6 658.8 L1327.6 660.4 L1333.6 661.9 L1339.6 663.4 L1345.6 664.8 L1351.6 666.3 L1357.7 667.6 L1363.7 669.0 L1369.7 670.3 L1375.7 671.6 L1381.7 672.8 L1387.7 674.1 L1393.7 675.3 L1399.7 676.4 L1405.7 677.6 L1411.7 678.7 L1417.7 679.9 L1423.7 681.0 L1429.7 682.1 L1435.7 683.1 L1441.7 684.2 L1447.7 685.3 L1453.7 686.4 L1459.7 687.4 L1465.7 688.5 L1471.7 689.6 L1477.7 690.7 L1483.7 691.8 L1489.7 692.8 L1495.7 693.9 L1501.7 695.0 L1507.7 696.1 L1513.7 697.2 L1519.7 698.3 L1525.8 699.3 L1531.8 700.4 L1537.8 701.4 L1543.8 702.4 L1549.8 703.4 L1555.8 704.4 L1561.8 705.4 L1567.8 706.3 L1573.8 707.2 L1579.8 708.1 L1585.8 709.0 L1591.8 709.8 L1597.8 710.7 L1603.8 711.5 L1609.8 712.3 L1615.8 713.1 L1621.8 713.9 L1627.8 714.7 L1633.8 715.4 L1639.8 716.2 L1645.8 716.9 L1651.8 717.6 L1657.8 718.3 L1663.8 719.0 L1669.8 719.6 L1675.8 720.3 L1681.8 720.9 L1687.8 721.5 L1693.9 722.1 L1699.9 722.6 L1705.9 723.2 L1711.9 723.8 L1717.9 724.3 L1723.9 724.9 L1729.9 725.4 L1735.9 725.9 L1741.9 726.4 L1747.9 726.9 L1753.9 727.4 L1759.9 727.9 L1765.9 728.3 L1771.9 728.7 L1777.9 729.1 L1783.9 729.5 L1789.9 729.8 L1795.9 730.1 L1801.9 730.4 L1807.9 730.7 L1813.9 730.9 L1819.9 731.2 L1825.9 731.4 L1831.9 731.7 L1837.9 731.9 L1843.9 732.1 L1849.9 732.3 L1855.9 732.5 L1862.0 732.7 L1868.0 732.9 L1874.0 733.1 L1880.0 733.2 L1886.0 733.4 L1892.0 733.6 L1898.0 733.8 L1904.0 733.9 L1910.0 734.1 L1916.0 734.2 L1922.0 734.4 L1928.0 734.5 L1934.0 734.7 L1940.0 734.8 L2190.5 734.8"/>
<path stroke="#ffd45e" d="M306.4 131.9 L312.4 135.5 L318.4 139.1 L324.4 142.7 L330.4 146.2 L336.4 149.8 L342.4 153.3 L348.4 156.8 L354.4 160.3 L360.5 163.8 L366.5 167.2 L372.5 170.6 L378.5 174.0 L384.5 177.4 L390.5 180.8 L396.5 184.1 L402.5 187.5 L408.5 190.8 L414.5 194.1 L420.5 197.4 L426.5 200.6 L432.5 203.9 L438.5 207.1 L444.6 210.2 L450.6 213.4 L456.6 216.5 L462.6 219.5 L468.6 222.6 L474.6 225.6 L480.6 228.7 L486.6 231.8 L492.6 234.8 L498.6 237.9 L504.6 241.0 L510.6 244.2 L516.6 247.4 L522.6 250.6 L528.7 253.8 L534.7 257.0 L540.7 260.3 L546.7 263.5 L552.7 266.8 L558.7 270.0 L564.7 273.3 L570.7 276.6 L576.7 279.8 L582.7 283.0 L588.7 286.3 L594.7 289.4 L600.7 292.6 L606.8 295.8 L612.8 298.9 L618.8 302.0 L624.8 305.0 L630.8 308.0 L636.8 311.0 L642.8 313.9 L648.8 316.9 L654.8 319.8 L660.8 322.7 L666.8 325.6 L672.8 328.4 L678.8 331.3 L684.8 334.1 L690.8 337.0 L696.9 339.8 L702.9 342.6 L708.9 345.4 L714.9 348.3 L720.9 351.1 L726.9 353.9 L732.9 356.7 L738.9 359.6 L744.9 362.4 L750.9 365.2 L756.9 368.0 L762.9 370.9 L768.9 373.7 L775.0 376.5 L781.0 379.3 L787.0 382.0 L793.0 384.8 L799.0 387.5 L805.0 390.3 L811.0 393.0 L817.0 395.6 L823.0 398.3 L829.0 400.9 L835.0 403.5 L841.0 406.1 L847.0 408.7 L853.0 411.2 L859.0 413.8 L865.1 416.3 L871.1 418.8 L877.1 421.3 L883.1 423.8 L889.1 426.2 L895.1 428.7 L901.1 431.2 L907.1 433.7 L913.1 436.2 L919.1 438.7 L925.1 441.2 L931.1 443.7 L937.1 446.2 L943.1 448.7 L949.2 451.3 L955.2 453.8 L961.2 456.4 L967.2 459.0 L973.2 461.5 L979.2 464.1 L985.2 466.7 L991.2 469.2 L997.2 471.8 L1003.2 474.3 L1009.2 476.9 L1015.2 479.4 L1021.2 481.9 L1027.2 484.5 L1033.3 487.0 L1039.3 489.4 L1045.3 491.9 L1051.3 494.3 L1057.3 496.6 L1063.3 498.7 L1069.3 500.7 L1069.5 500.8 L1070.2 501.1 L1071.1 501.6 L1073.6 502.8 L1075.2 503.5 L1078.3 505.1 L1081.7 506.7 L1090.5 511.0 L1093.9 512.6 L1097.2 514.3 L1099.0 515.2 L1102.0 516.7 L1103.3 517.4 L1104.6 518.1 L1105.6 518.7 L1107.4 519.9 L1108.2 520.4 L1108.9 521.0 L1109.3 521.5 L1109.9 522.4 L1110.1 522.9 L1110.4 523.8 L1110.5 524.7 L1110.9 526.9 L1111.0 527.9 L1111.1 529.4 L1111.3 530.6 L1111.5 533.5 L1111.6 535.2 L1111.9 538.3 L1112.1 541.4 L1112.6 549.6 L1112.8 552.7 L1113.1 555.9 L1113.2 557.6 L1113.5 560.6 L1113.7 561.8 L1113.9 563.4 L1114.1 564.5 L1114.5 567.0 L1114.8 568.0 L1115.1 569.0 L1115.4 569.6 L1116.1 570.8 L1116.6 571.3 L1117.4 572.1 L1118.2 572.8 L1120.3 574.3 L1121.2 575.0 L1122.2 575.6 L1122.8 576.0 L1124.2 576.7 L1124.9 577.0 L1126.0 577.4 L1127.1 577.7 L1129.7 578.6 L1130.9 578.9 L1132.2 579.3 L1133.2 579.5 L1135.3 580.1 L1136.5 580.4 L1138.4 580.9 L1140.3 581.4 L1145.2 582.5 L1147.0 583.0 L1148.8 583.4 L1149.7 583.6 L1151.0 584.0 L1151.5 584.1 L1151.9 584.2 L1152.0 584.2 L1158.0 585.9 L1164.1 587.7 L1170.1 589.4 L1176.1 591.1 L1182.2 592.8 L1188.2 594.5 L1194.2 596.1 L1200.2 597.8 L1206.3 599.4 L1212.3 601.1 L1218.3 602.7 L1224.4 604.3 L1230.4 605.9 L1236.4 607.5 L1242.5 609.1 L1248.5 610.7 L1254.5 612.2 L1260.6 613.7 L1266.6 615.3 L1272.6 616.8 L1278.7 618.3 L1284.7 619.8 L1290.7 621.3 L1296.7 622.8 L1302.8 624.2 L1308.8 625.7 L1314.8 627.1 L1320.9 628.6 L1326.9 630.0 L1332.9 631.4 L1339.0 632.8 L1345.0 634.2 L1351.0 635.6 L1357.1 636.9 L1363.1 638.3 L1369.1 639.6 L1375.1 640.9 L1381.2 642.3 L1387.2 643.6 L1393.2 644.9 L1399.3 646.3 L1405.3 647.6 L1411.3 648.9 L1417.4 650.2 L1423.4 651.5 L1429.4 652.7 L1435.5 654.0 L1441.5 655.2 L1447.5 656.4 L1453.6 657.5 L1459.6 658.6 L1465.6 659.7 L1471.6 660.8 L1477.7 661.8 L1483.7 662.8 L1489.7 663.8 L1495.8 664.7 L1501.8 665.7 L1507.8 666.6 L1513.9 667.5 L1519.9 668.4 L1525.9 669.2 L1532.0 670.1 L1538.0 670.9 L1544.0 671.7 L1550.0 672.6 L1556.1 673.4 L1562.1 674.2 L1568.1 675.0 L1574.2 675.8 L1580.2 676.6 L1586.2 677.4 L1592.3 678.2 L1598.3 679.0 L1604.3 679.8 L1610.4 680.6 L1616.4 681.5 L1622.4 682.3 L1628.4 683.0 L1634.5 683.8 L1640.5 684.6 L1646.5 685.3 L1652.6 686.1 L1658.6 686.8 L1664.6 687.5 L1670.7 688.1 L1676.7 688.8 L1682.7 689.4 L1688.8 690.0 L1694.8 690.5 L1700.8 691.1 L1706.9 691.7 L1712.9 692.2 L1718.9 692.7 L1724.9 693.3 L1731.0 693.8 L1737.0 694.3 L1743.0 694.8 L1749.1 695.2 L1755.1 695.7 L1761.1 696.1 L1767.2 696.5 L1773.2 696.9 L1779.2 697.2 L1785.3 697.5 L1791.3 697.8 L1797.3 698.1 L1803.3 698.3 L1809.4 698.5 L1815.4 698.7 L1821.4 698.9 L1827.5 699.1 L1833.5 699.2 L1839.5 699.4 L1845.6 699.5 L1851.6 699.7 L1857.6 699.8 L1863.7 700.0 L1869.7 700.1 L1875.7 700.2 L1881.8 700.3 L1887.8 700.4 L1893.8 700.6 L1899.8 700.7 L1905.9 700.8 L1911.9 700.9 L1917.9 700.9 L1924.0 701.0 L1930.0 701.1 L2181.6 701.1"/>
<path stroke="#00ffff" d="M306.4 162.5 L312.4 165.8 L318.4 169.1 L324.4 172.5 L330.4 175.8 L336.4 179.2 L342.4 182.5 L348.5 185.8 L354.5 189.1 L360.5 192.4 L366.5 195.8 L372.5 199.1 L378.5 202.4 L384.5 205.7 L390.5 209.0 L396.5 212.3 L402.5 215.6 L408.5 218.9 L414.5 222.2 L420.6 225.4 L426.6 228.7 L432.6 232.0 L438.6 235.3 L444.6 238.6 L450.6 241.9 L456.6 245.2 L462.6 248.5 L468.6 251.7 L474.6 255.0 L480.6 258.3 L486.6 261.5 L492.7 264.7 L498.7 267.9 L504.7 271.1 L510.7 274.2 L516.7 277.3 L522.7 280.4 L528.7 283.5 L534.7 286.5 L540.7 289.6 L546.7 292.6 L552.7 295.6 L558.7 298.6 L564.8 301.6 L570.8 304.6 L576.8 307.5 L582.8 310.5 L588.8 313.5 L594.8 316.4 L600.8 319.4 L606.8 322.4 L612.8 325.3 L618.8 328.3 L624.8 331.2 L630.8 334.2 L636.9 337.2 L642.9 340.1 L648.9 343.1 L654.9 346.1 L660.9 349.0 L666.9 352.0 L672.9 354.9 L678.9 357.9 L684.9 360.8 L690.9 363.7 L696.9 366.6 L702.9 369.5 L709.0 372.4 L715.0 375.3 L721.0 378.1 L727.0 380.9 L733.0 383.7 L739.0 386.5 L745.0 389.3 L751.0 392.0 L757.0 394.8 L763.0 397.5 L769.0 400.2 L775.0 402.9 L781.1 405.6 L787.1 408.3 L793.1 411.0 L799.1 413.7 L805.1 416.4 L811.1 419.0 L817.1 421.7 L823.1 424.4 L829.1 427.1 L835.1 429.8 L841.1 432.5 L847.2 435.3 L853.2 438.0 L859.2 440.7 L865.2 443.5 L871.2 446.2 L877.2 449.0 L883.2 451.7 L889.2 454.4 L895.2 457.1 L901.2 459.8 L907.2 462.4 L913.2 465.0 L919.3 467.6 L925.3 470.2 L931.3 472.7 L937.3 475.2 L943.3 477.6 L949.3 480.0 L955.3 482.3 L961.3 484.6 L967.3 486.9 L973.3 489.2 L979.3 491.4 L985.3 493.7 L991.4 495.9 L997.4 498.1 L1003.4 500.3 L1009.4 502.5 L1015.4 504.6 L1021.4 506.8 L1027.4 509.0 L1033.4 511.2 L1039.4 513.3 L1045.4 515.5 L1051.4 517.7 L1057.4 519.9 L1063.5 522.1 L1069.5 524.3 L1075.5 526.5 L1081.5 528.7 L1087.5 530.9 L1093.5 533.1 L1099.5 535.3 L1105.5 537.4 L1111.5 539.6 L1117.5 541.7 L1123.5 543.8 L1129.5 546.0 L1135.6 548.1 L1141.6 550.1 L1147.6 552.2 L1153.6 554.2 L1159.6 556.2 L1165.6 558.2 L1171.6 560.2 L1177.6 562.1 L1183.6 564.0 L1189.6 565.9 L1195.6 567.7 L1201.6 569.6 L1207.7 571.5 L1213.7 573.3 L1219.7 575.2 L1225.7 577.1 L1231.7 579.0 L1237.7 581.0 L1243.7 582.9 L1249.7 585.0 L1255.7 587.0 L1261.7 589.1 L1267.7 591.2 L1273.7 593.4 L1279.8 595.6 L1285.8 597.8 L1291.8 600.1 L1297.8 602.4 L1303.8 604.7 L1309.8 607.0 L1309.8 607.0 L1309.9 607.1 L1310.1 607.2 L1310.4 607.5 L1310.7 607.6 L1311.2 608.0 L1311.7 608.3 L1313.0 609.3 L1313.5 609.7 L1314.0 610.1 L1314.3 610.4 L1314.8 611.1 L1314.9 611.4 L1315.1 612.0 L1315.3 612.6 L1315.5 614.0 L1315.6 614.7 L1315.7 615.7 L1315.8 616.6 L1315.9 618.9 L1315.9 620.2 L1315.9 622.7 L1316.0 625.2 L1316.0 631.8 L1316.1 634.3 L1316.1 636.8 L1316.2 638.1 L1316.3 640.3 L1316.4 641.2 L1316.6 642.3 L1316.8 642.9 L1317.2 644.3 L1317.5 644.8 L1317.8 645.4 L1318.0 645.8 L1318.6 646.4 L1318.9 646.8 L1319.6 647.3 L1320.2 647.7 L1321.8 648.8 L1322.6 649.2 L1323.7 649.7 L1324.6 650.1 L1326.9 650.7 L1328.2 651.1 L1330.6 651.6 L1333.1 652.2 L1339.5 653.5 L1341.9 654.0 L1344.3 654.5 L1345.4 654.8 L1347.2 655.1 L1347.9 655.3 L1348.4 655.4 L1348.5 655.4 L1354.6 656.3 L1360.6 657.3 L1366.7 658.3 L1372.8 659.3 L1378.8 660.3 L1384.9 661.4 L1390.9 662.4 L1397.0 663.5 L1403.1 664.6 L1409.1 665.7 L1415.2 666.8 L1421.3 667.9 L1427.3 669.0 L1433.4 670.1 L1439.5 671.1 L1445.5 672.2 L1451.6 673.3 L1457.7 674.3 L1463.7 675.3 L1469.8 676.3 L1475.8 677.3 L1481.9 678.3 L1488.0 679.2 L1494.0 680.2 L1500.1 681.1 L1506.2 682.1 L1512.2 683.0 L1518.3 683.9 L1524.4 684.9 L1530.4 685.8 L1536.5 686.6 L1542.5 687.5 L1548.6 688.4 L1554.7 689.2 L1560.7 690.0 L1566.8 690.8 L1572.9 691.5 L1578.9 692.3 L1585.0 693.0 L1591.1 693.6 L1597.1 694.3 L1603.2 695.0 L1609.2 695.6 L1615.3 696.2 L1621.4 696.8 L1627.4 697.4 L1633.5 698.0 L1639.6 698.6 L1645.6 699.1 L1651.7 699.7 L1657.8 700.2 L1663.8 700.7 L1669.9 701.3 L1676.0 701.8 L1682.0 702.3 L1688.1 702.8 L1694.1 703.3 L1700.2 703.9 L1706.3 704.4 L1712.3 704.9 L1718.4 705.5 L1724.5 706.0 L1730.5 706.5 L1736.6 707.1 L1742.7 707.6 L1748.7 708.1 L1754.8 708.5 L1760.8 709.0 L1766.9 709.4 L1773.0 709.8 L1779.0 710.1 L1785.1 710.4 L1791.2 710.6 L1797.2 710.8 L1803.3 711.0 L1809.4 711.2 L1815.4 711.4 L1821.5 711.6 L1827.6 711.7 L1833.6 711.9 L1839.7 712.0 L1845.7 712.1 L1851.8 712.2 L1857.9 712.2 L1863.9 712.3 L1870.0 712.3 L2172.6 712.3"/>
<path stroke="#d2a3a3" d="M306.4 198.9 L312.4 202.5 L318.4 206.1 L324.5 209.6 L330.5 213.2 L336.5 216.7 L342.5 220.2 L348.6 223.7 L354.6 227.2 L360.6 230.7 L366.7 234.1 L372.7 237.5 L378.7 240.9 L384.7 244.3 L390.8 247.7 L396.8 251.1 L402.8 254.4 L408.9 257.7 L414.9 261.1 L420.9 264.4 L426.9 267.6 L433.0 270.9 L439.0 274.1 L445.0 277.3 L451.1 280.5 L457.1 283.6 L463.1 286.7 L469.1 289.9 L475.2 293.0 L481.2 296.1 L487.2 299.2 L493.3 302.3 L499.3 305.4 L505.3 308.6 L511.3 311.8 L517.4 315.0 L523.4 318.3 L529.4 321.5 L535.5 324.7 L541.5 327.9 L547.5 331.0 L553.5 334.1 L559.6 337.3 L565.6 340.3 L571.6 343.4 L577.7 346.5 L583.7 349.5 L589.7 352.6 L595.7 355.6 L601.8 358.6 L607.8 361.6 L613.8 364.5 L619.9 367.4 L625.9 370.3 L631.9 373.2 L637.9 376.1 L644.0 378.9 L650.0 381.7 L656.0 384.5 L662.1 387.3 L668.1 390.1 L674.1 392.9 L680.1 395.7 L686.2 398.5 L692.2 401.3 L698.2 404.1 L704.3 406.9 L710.3 409.7 L716.3 412.5 L722.3 415.4 L728.4 418.2 L734.4 421.1 L740.4 424.1 L746.5 427.0 L752.5 429.9 L758.5 432.8 L764.5 435.7 L770.6 438.5 L776.6 441.3 L782.6 444.0 L788.7 446.7 L794.7 449.4 L800.7 452.0 L806.7 454.6 L812.8 457.2 L818.8 459.8 L824.8 462.4 L830.9 465.0 L836.9 467.6 L842.9 470.1 L848.9 472.7 L855.0 475.3 L861.0 477.8 L867.0 480.4 L873.1 482.9 L879.1 485.4 L885.1 488.0 L891.1 490.5 L897.2 493.0 L903.2 495.5 L909.2 498.0 L915.3 500.4 L921.3 502.9 L927.3 505.3 L933.3 507.7 L939.4 510.1 L945.4 512.4 L951.4 514.8 L957.5 517.1 L963.5 519.5 L969.5 521.8 L975.5 524.1 L981.6 526.3 L987.6 528.6 L993.6 530.9 L999.7 533.1 L1005.7 535.4 L1011.7 537.6 L1017.7 539.8 L1023.8 542.0 L1029.8 544.2 L1035.8 546.4 L1041.9 548.6 L1047.9 550.8 L1053.9 553.0 L1059.9 555.2 L1066.0 557.4 L1072.0 559.5 L1078.0 561.7 L1084.1 563.9 L1090.1 566.0 L1096.1 568.2 L1102.1 570.3 L1108.2 572.4 L1114.2 574.5 L1120.2 576.6 L1126.3 578.7 L1132.3 580.7 L1138.3 582.7 L1144.3 584.8 L1150.4 586.8 L1156.4 588.7 L1162.4 590.7 L1168.5 592.7 L1174.5 594.6 L1180.5 596.5 L1186.5 598.4 L1192.6 600.3 L1198.6 602.2 L1204.6 604.1 L1210.7 606.0 L1216.7 607.8 L1222.7 609.6 L1228.7 611.5 L1234.8 613.3 L1240.8 615.1 L1246.8 616.9 L1252.9 618.7 L1258.9 620.4 L1264.9 622.2 L1270.9 623.9 L1277.0 625.5 L1283.0 627.2 L1289.0 628.8 L1295.1 630.4 L1301.1 631.9 L1307.1 633.5 L1313.1 635.1 L1319.2 636.7 L1325.2 638.3 L1331.2 639.9 L1337.3 641.6 L1343.3 643.3 L1349.3 645.0 L1355.3 646.8 L1361.4 648.6 L1367.4 650.5 L1373.4 652.4 L1379.5 654.5 L1385.5 656.6 L1391.5 658.8 L1397.5 661.0 L1403.6 663.3 L1409.6 665.6 L1409.6 665.6 L1409.8 665.7 L1409.9 665.8 L1410.4 666.0 L1410.7 666.1 L1411.3 666.4 L1411.9 666.7 L1413.5 667.5 L1414.1 667.8 L1414.8 668.2 L1415.1 668.5 L1415.6 669.1 L1415.9 669.5 L1416.1 670.0 L1416.3 670.6 L1416.7 672.0 L1416.8 672.6 L1417.0 673.5 L1417.0 674.2 L1417.2 675.9 L1417.2 676.8 L1417.3 678.5 L1417.3 680.3 L1417.5 684.7 L1417.5 686.5 L1417.6 688.2 L1417.7 689.2 L1417.9 690.9 L1418.0 691.6 L1418.2 692.6 L1418.4 693.3 L1419.0 694.9 L1419.2 695.6 L1419.6 696.2 L1419.8 696.6 L1420.5 697.4 L1420.8 697.7 L1421.4 698.2 L1422.1 698.6 L1423.6 699.6 L1424.3 700.0 L1425.2 700.4 L1425.9 700.6 L1427.4 701.1 L1428.2 701.3 L1429.7 701.6 L1431.2 701.8 L1434.9 702.4 L1436.5 702.6 L1438.4 702.9 L1439.8 703.1 L1442.8 703.5 L1444.5 703.7 L1447.3 704.1 L1450.1 704.5 L1457.1 705.3 L1459.8 705.7 L1462.3 706.0 L1463.6 706.2 L1465.6 706.4 L1466.3 706.5 L1466.8 706.6 L1467.0 706.6 L1473.1 707.5 L1479.1 708.4 L1485.2 709.3 L1491.3 710.2 L1497.4 711.1 L1503.4 712.0 L1509.5 712.8 L1515.6 713.7 L1521.7 714.5 L1527.7 715.4 L1533.8 716.2 L1539.9 717.0 L1546.0 717.7 L1552.0 718.5 L1558.1 719.3 L1564.2 720.0 L1570.2 720.7 L1576.3 721.5 L1582.4 722.2 L1588.5 722.9 L1594.5 723.6 L1600.6 724.3 L1606.7 725.0 L1612.8 725.6 L1618.8 726.3 L1624.9 727.0 L1631.0 727.7 L1637.1 728.3 L1643.1 728.9 L1649.2 729.5 L1655.3 730.1 L1661.4 730.6 L1667.4 731.2 L1673.5 731.7 L1679.6 732.1 L1685.6 732.5 L1691.7 732.9 L1697.8 733.3 L1703.9 733.7 L1709.9 734.1 L1716.0 734.4 L1722.1 734.8 L1728.2 735.1 L1734.2 735.4 L1740.3 735.7 L1746.4 736.0 L1752.5 736.3 L1758.5 736.6 L1764.6 736.8 L1770.7 737.1 L1776.8 737.3 L1782.8 737.5 L1788.9 737.6 L1795.0 737.8 L1801.0 737.9 L1807.1 738.0 L1813.2 738.2 L1819.3 738.3 L1825.3 738.4 L1831.4 738.5 L1837.5 738.6 L1843.6 738.7 L1849.6 738.8 L1855.7 738.9 L1861.8 738.9 L1867.9 739.0 L1873.9 739.0 L1880.0 739.0 L2169.0 739.0"/>
</g>
<g id="legend">
<rect x="1851.0" y="49.0" width="356.0" height="471.2" fill="#fff"/>
<line x1="1850.0" y1="520.0" x2="2208.0" y2="520.0" stroke="#858585" stroke-width="3.4"/>
<line x1="1850.0" y1="521.1" x2="2208.0" y2="521.1" stroke="#4a4a4a" stroke-width="1.4"/>
<line x1="1851.0" y1="49.0" x2="1851.0" y2="521.8" stroke="#000" stroke-width="2"/>
<line x1="2207.0" y1="49.0" x2="2207.0" y2="521.8" stroke="#000" stroke-width="2"/>
<line x1="1858.5" y1="82.9" x2="1961.5" y2="82.9" stroke="#b2b2b2" stroke-width="9.8" stroke-linecap="round"/>
<text x="1974" y="98.2" font-size="46.2">no tensioner</text>
<line x1="1858.5" y1="140.8" x2="1961.5" y2="140.8" stroke="#ff9696" stroke-width="9.8" stroke-linecap="round"/>
<text x="1974" y="156.1" font-size="46.2">50m</text>
<line x1="1858.5" y1="198.8" x2="1961.5" y2="198.8" stroke="#6fb1f2" stroke-width="9.8" stroke-linecap="round"/>
<text x="1974" y="214.1" font-size="46.2">100m</text>
<line x1="1858.5" y1="256.7" x2="1961.5" y2="256.7" stroke="#6ddcb4" stroke-width="9.8" stroke-linecap="round"/>
<text x="1974" y="272.0" font-size="46.2">200m</text>
<line x1="1858.5" y1="314.7" x2="1961.5" y2="314.7" stroke="#ddabf2" stroke-width="9.8" stroke-linecap="round"/>
<text x="1974" y="330.0" font-size="46.2">300m</text>
<line x1="1858.5" y1="372.6" x2="1961.5" y2="372.6" stroke="#ffd45e" stroke-width="9.8" stroke-linecap="round"/>
<text x="1974" y="387.9" font-size="46.2">400m</text>
<line x1="1858.5" y1="430.5" x2="1961.5" y2="430.5" stroke="#00ffff" stroke-width="9.8" stroke-linecap="round"/>
<text x="1974" y="445.8" font-size="46.2">500m</text>
<line x1="1858.5" y1="488.5" x2="1961.5" y2="488.5" stroke="#d2a3a3" stroke-width="9.8" stroke-linecap="round"/>
<text x="1974" y="503.8" font-size="46.2">550m</text>
</g>
<g stroke="#000" stroke-width="6.6">
<line x1="2224.7" y1="127.5" x2="2208.7" y2="127.5"/>
<line x1="2224.7" y1="206.1" x2="2208.0" y2="206.1"/>
<line x1="2224.7" y1="284.6" x2="2208.7" y2="284.6"/>
<line x1="2224.7" y1="363.1" x2="2208.0" y2="363.1"/>
<line x1="2224.7" y1="441.7" x2="2208.7" y2="441.7"/>
<line x1="2224.7" y1="520.2" x2="2192.7" y2="520.2"/>
</g>
<rect x="294.0" y="49.0" width="1932.5" height="1099.5" fill="none" stroke="#000" stroke-width="5.6"/>
<g id="xlabels" font-size="46.5" text-anchor="middle">
<text x="293.7" y="1218.3">0</text>
<text x="722.9" y="1218.3">200</text>
<text x="1152.1" y="1218.3">400</text>
<text x="1581.3" y="1218.3">600</text>
<text x="2010.5" y="1218.3">800</text>
</g>
<g id="ylabels" font-size="45">
<text transform="translate(114.5 65.6) scale(1 1.06)">1.1×10<tspan font-size="30" dx="2" dy="-18.5">6</tspan></text>
<text transform="translate(114.5 222.7) scale(1 1.06)">1.0×10<tspan font-size="30" dx="2" dy="-18.5">6</tspan></text>
<text transform="translate(114.5 379.7) scale(1 1.06)">9.5×10<tspan font-size="30" dx="2" dy="-18.5">5</tspan></text>
<text transform="translate(114.5 536.8) scale(1 1.06)">9.0×10<tspan font-size="30" dx="2" dy="-18.5">5</tspan></text>
<text transform="translate(114.5 693.9) scale(1 1.06)">8.5×10<tspan font-size="30" dx="2" dy="-18.5">5</tspan></text>
<text transform="translate(114.5 851.0) scale(1 1.06)">8.0×10<tspan font-size="30" dx="2" dy="-18.5">5</tspan></text>
<text transform="translate(114.5 1008.0) scale(1 1.06)">7.5×10<tspan font-size="30" dx="2" dy="-18.5">5</tspan></text>
<text transform="translate(114.5 1165.1) scale(1 1.06)">7.0×10<tspan font-size="30" dx="2" dy="-18.5">5</tspan></text>
</g>
<text x="1259.5" y="1325" font-size="70" text-anchor="middle">X [m]</text>
<text transform="translate(80.3 597.9) rotate(-90)" font-size="70" text-anchor="middle">T [N]</text>
</svg>
</body></html>
